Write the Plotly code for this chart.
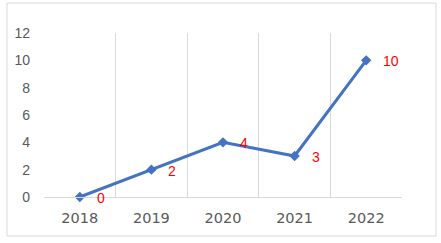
import plotly.graph_objects as go

years = ["2018", "2019", "2020", "2021", "2022"]
values = [0, 2, 4, 3, 10]
labels = [str(v) for v in values]
y_ticks = [0, 2, 4, 6, 8, 10, 12]

fig = go.Figure()
fig.add_trace(go.Scatter(
    x=years, y=values,
    mode="lines+markers",
    line=dict(color="#4472C4", width=3),
    marker=dict(symbol="diamond", size=8, color="#4472C4"),
    cliponaxis=False,
    showlegend=False,
))

annotations = [
    dict(x=i, y=v, text=t, xref="x", yref="y", showarrow=False,
         xanchor="left", yanchor="middle", xshift=15, yshift=-1,
         font=dict(color="#FF0000", size=14, family="Liberation Sans"))
    for i, (v, t) in enumerate(zip(values, labels))
]

fig.update_layout(
    width=441, height=243,
    margin=dict(l=44, r=39, t=33, b=46),
    paper_bgcolor="white", plot_bgcolor="white",
    xaxis=dict(
        type="category", range=[-0.5, 4.5], tickson="boundaries",
        showgrid=True, gridcolor="#D9D9D9", gridwidth=1,
        showline=True, linecolor="#D9D9D9", linewidth=1,
        ticks="", ticklabelstandoff=8,
        tickfont=dict(family="DejaVu Sans", size=14.5, color="#595959"),
        fixedrange=True,
    ),
    yaxis=dict(
        range=[0, 12], tickvals=y_ticks, showgrid=False, zeroline=False,
        showline=False, ticks="", ticklabelstandoff=13,
        tickfont=dict(family="Liberation Sans", size=14, color="#595959"),
    ),
    annotations=annotations,
    shapes=[dict(
        type="rect", xref="paper", yref="paper",
        x0=(7 - 44) / 358, x1=(436 - 44) / 358,
        y0=(243 - 46 - 236) / 164, y1=(243 - 46 - 3) / 164,
        line=dict(color="#D9D9D9", width=1), fillcolor="rgba(0,0,0,0)",
        layer="below",
    )],
)

fig.write_html("out.html", config={"displayModeBar": False},
               post_script="document.body.style.margin='0';")
